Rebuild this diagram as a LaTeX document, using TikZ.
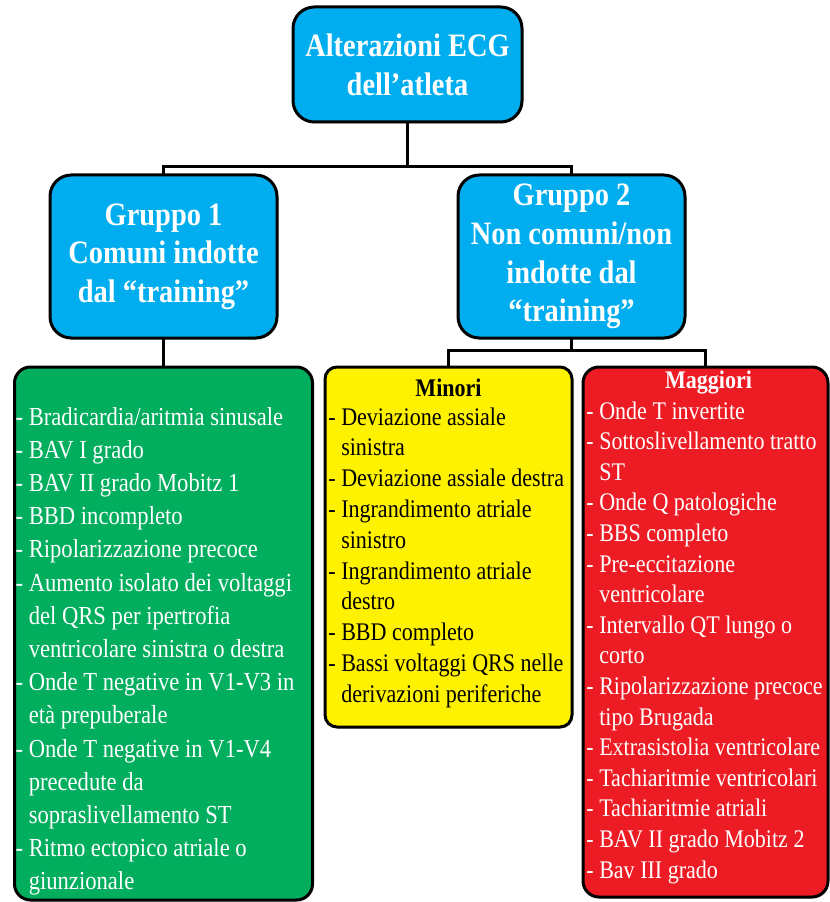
\documentclass[tikz,border=0pt]{standalone}
\usepackage{fontspec}
\setmainfont[FakeStretch=0.87]{Liberation Serif}
\usepackage{xcolor}
\definecolor{lineDark}{HTML}{000000}
\definecolor{boxBlue}{HTML}{00AEEF}
\definecolor{boxGreen}{HTML}{00AE5E}
\definecolor{boxYellow}{HTML}{FFF200}
\definecolor{boxRed}{HTML}{ED1C24}
\usepackage{tikz}
\usetikzlibrary{positioning,shadows}
\newcommand{\trattino}{\leavevmode\llap{-\ }}
\tikzset{%
  groupBox/.style={%
    rectangle,
    rounded corners=16pt,
    draw=lineDark,
    line width=2.25pt,
    outer sep=0pt,
    inner sep=4pt,
    fill=boxBlue,
    text=white,
    text width=160pt,
    minimum width=170.25pt,
    minimum height=122.25pt,
    align=flush center,
    font=\bfseries\fontsize{24.5}{29}\selectfont,
    drop shadow={shadow xshift=0.8pt,shadow yshift=-1.2pt,opacity=0.3}
  },
  listBox/.style={%
    rectangle,
    rounded corners=12pt,
    draw=lineDark,
    line width=2.25pt,
    outer sep=0pt,
    drop shadow={shadow xshift=0.8pt,shadow yshift=-1.2pt,opacity=0.3}
  },
  listText/.style={%
    inner sep=0pt,
    align=flush left,
    anchor=base west
  },
  headText/.style={%
    inner sep=0pt,
    anchor=base,
    font=\bfseries\fontsize{19}{23}\selectfont
  },
  linkLine/.style={%
    draw=lineDark,
    line width=2.25pt
  }
}

\begin{document}
\begin{tikzpicture}[x=0.75pt,y=-0.75pt]
  \useasboundingbox (0,0) rectangle (830,902);

  \node[groupBox, minimum width=171.75pt, minimum height=86.25pt] (titolo) at (407.5,64.5) {Alterazioni ECG\\dell’atleta};
  \node[groupBox, below=39.75pt of titolo, xshift=-183pt] (gruppoUno) {Gruppo 1\\Comuni indotte\\dal “training”};
  \node[groupBox, right=135.75pt of gruppoUno] (gruppoDue) {Gruppo 2\\Non comuni/non\\indotte dal\\“training”};

  \node[listBox, fill=boxGreen, minimum width=223.5pt, minimum height=399.75pt, below=21.75pt of gruppoUno] (comuni) {};
  \node[listBox, fill=boxYellow, rounded corners=9pt, minimum width=185.25pt, minimum height=270pt, below=21.75pt of gruppoDue, xshift=-92.25pt] (minori) {};
  \node[listBox, fill=boxRed, minimum width=183.75pt, minimum height=397.5pt, right=8.25pt of minori.north east, anchor=north west] (maggiori) {};

  \draw[linkLine] (titolo.south) -- ++(0,-33.75pt) -| (gruppoUno.north);
  \draw[linkLine] (titolo.south) -- ++(0,-33.75pt) -| (gruppoDue.north);
  \draw[linkLine] (gruppoUno.south) -- (comuni.north);
  \draw[linkLine] (gruppoDue.south) -- ++(0,-9pt) -| (minori.north);
  \draw[linkLine] (gruppoDue.south) -- ++(0,-9pt) -| (maggiori.north);

  \node[listText, text=white, text width=220pt, font=\fontsize{19.5}{24.9}\selectfont] (comuniVoci) at ([shift={(10.5pt,-43.5pt)}]comuni.north west) {%
    \trattino Bradicardia/aritmia sinusale\\
    \trattino BAV I grado\\
    \trattino BAV II grado Mobitz 1\\
    \trattino BBD incompleto\\
    \trattino Ripolarizzazione precoce\\
    \trattino Aumento isolato dei voltaggi\\
    del QRS per ipertrofia\\
    ventricolare sinistra o destra\\
    \trattino Onde T negative in V1-V3 in\\
    età prepuberale\\
    \trattino Onde T negative in V1-V4\\
    precedute da\\
    sopraslivellamento ST\\
    \trattino Ritmo ectopico atriale o\\
    giunzionale};

  \node[headText] (minoriTesta) at ([yshift=-21.75pt]minori.north) {Minori};
  \node[listText, text width=190pt, font=\fontsize{19}{23.1}\selectfont] (minoriVoci) at ([shift={(12pt,-43.5pt)}]minori.north west) {%
    \trattino Deviazione assiale\\
    sinistra\\
    \trattino Deviazione assiale destra\\
    \trattino Ingrandimento atriale\\
    sinistro\\
    \trattino Ingrandimento atriale\\
    destro\\
    \trattino BBD completo\\
    \trattino Bassi voltaggi QRS nelle\\
    derivazioni periferiche};

  \node[headText, text=white] (maggioriTesta) at ([shift={(2.25pt,-15.75pt)}]maggiori.north) {Maggiori};
  \node[listText, text=white, text width=195pt, font=\fontsize{19}{22.95}\selectfont] (maggioriVoci) at ([shift={(12pt,-39pt)}]maggiori.north west) {%
    \trattino Onde T invertite\\
    \trattino Sottoslivellamento tratto\\
    ST\\
    \trattino Onde Q patologiche\\
    \trattino BBS completo\\
    \trattino Pre-eccitazione\\
    ventricolare\\
    \trattino Intervallo QT lungo o\\
    corto\\
    \trattino Ripolarizzazione precoce\\
    tipo Brugada\\
    \trattino Extrasistolia ventricolare\\
    \trattino Tachiaritmie ventricolari\\
    \trattino Tachiaritmie atriali\\
    \trattino BAV II grado Mobitz 2\\
    \trattino Bav III grado};
\end{tikzpicture}
\end{document}
